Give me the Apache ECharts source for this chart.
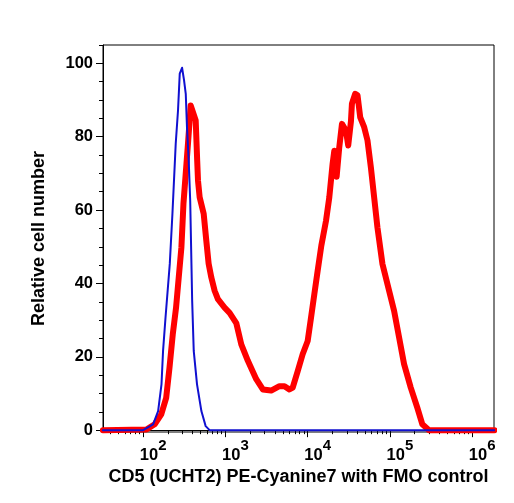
<!DOCTYPE html>
<html>
<head>
<meta charset="utf-8">
<script src="https://cdn.jsdelivr.net/npm/echarts@6/dist/echarts.min.js"></script>
<style>
  html, body { margin: 0; padding: 0; background: #fff; }
  #chart { width: 514px; height: 503px; }
</style>
</head>
<body>
<div id="chart"></div>
<script>
// x values are log10 of the fluorescence intensity (axis is drawn in decades)
var redLogX = [1.51, 2.04, 2.14, 2.22, 2.28, 2.32, 2.36, 2.40, 2.465, 2.49, 2.545, 2.578, 2.639,
  2.657, 2.667, 2.687, 2.736, 2.768, 2.796, 2.829, 2.869, 2.909, 2.99, 3.051, 3.132, 3.193,
  3.273, 3.375, 3.455, 3.556, 3.657, 3.718, 3.778, 3.818, 3.879, 3.939, 4.0, 4.041, 4.081,
  4.121, 4.166, 4.223, 4.263, 4.303, 4.324, 4.352, 4.384, 4.417, 4.465, 4.493, 4.526, 4.538,
  4.578, 4.606, 4.639, 4.687, 4.727, 4.768, 4.808, 4.848, 4.909, 5.011, 5.051, 5.112, 5.172,
  5.253, 5.333, 5.394, 5.475, 6.27];
var redVal = [0, 0.2, 1.6, 4.3, 8.8, 17.0, 26.1, 33.4, 49.8, 61.7, 78.1, 88.5, 84.4,
  73.5, 68.0, 63.5, 59.0, 51.6, 45.4, 41.6, 38.0, 35.7, 33.4, 32.0, 29.2, 23.4,
  18.9, 13.9, 11.1, 10.8, 12.0, 12.0, 11.1, 11.6, 16.1, 20.7, 24.3, 30.7, 37.1,
  43.4, 50.3, 57.1, 63.5, 72.6, 76.2, 69.1, 77.1, 83.5, 81.7, 77.6, 84.2, 89.0,
  91.7, 91.3, 85.3, 82.6, 79.0, 71.7, 63.5, 55.3, 45.3, 36.1, 32.5, 25.2, 18.0,
  11.6, 6.1, 1.6, 0, 0];

var blueLogX = [1.51, 2.0, 2.121, 2.182, 2.223, 2.242, 2.272, 2.324, 2.356, 2.396, 2.424, 2.445,
  2.473, 2.497, 2.518, 2.533, 2.554, 2.572, 2.587, 2.596, 2.615, 2.655, 2.708, 2.76, 2.808, 6.27];
var blueVal = [0, 0, 1.6, 5.2, 12.5, 21.6, 30.7, 45.4, 59.0, 78.1, 87.2, 97.2,
  98.8, 95.4, 91.7, 82.6, 73.5, 62.6, 45.4, 35.2, 21.6, 12.5, 5.2, 1.1, 0, 0];

var xMajorExp = [2, 3, 4, 5, 6];
var xMinorMult = [2, 3, 4, 5, 6, 7, 8, 9];
var yMajor = [0, 20, 40, 60, 80, 100];
var yMinor = [5, 10, 15, 25, 30, 35, 45, 50, 55, 65, 70, 75, 85, 90, 95, 105];

var xMin = 1.512, xMax = 6.265;
var xMinor = [];
for (var d = 1; d <= 6; d++) {
  xMinorMult.forEach(function (m) {
    var v = d + Math.log10(m);
    if (v > xMin && v < xMax) xMinor.push(v);
  });
}

function pairs(xs, ys) {
  return xs.map(function (x, i) { return [x, ys[i]]; });
}

var font = 'Liberation Sans';
var chart = echarts.init(document.getElementById('chart'));
chart.setOption({
  animation: false,
  textStyle: { fontFamily: font },
  grid: {
    left: 103, right: 20, top: 45, bottom: 71,
    show: true, borderColor: '#000', borderWidth: 1
  },
  xAxis: [
    {
      type: 'value', min: xMin, max: xMax,
      name: 'CD5 (UCHT2) PE-Cyanine7 with FMO control',
      nameLocation: 'middle', nameGap: 34,
      nameTextStyle: { color: '#000', fontSize: 18, fontWeight: 'bold', fontFamily: font },
      axisLine: { lineStyle: { color: '#000', width: 1 } },
      axisTick: { customValues: xMajorExp, length: 7, lineStyle: { color: '#000' } },
      axisLabel: {
        customValues: xMajorExp, margin: 6, padding: [0, 0, 0, 20],
        formatter: function (v) { return '{b|10}{s|' + v + '}'; },
        rich: {
          b: { fontSize: 16.5, fontWeight: 'bold', color: '#000', lineHeight: 34, verticalAlign: 'middle', fontFamily: font },
          s: { fontSize: 15, fontWeight: 'bold', color: '#000', lineHeight: 16, verticalAlign: 'top', fontFamily: font }
        }
      },
      splitLine: { show: false }
    },
    {
      type: 'value', min: xMin, max: xMax, position: 'bottom',
      axisLine: { show: false },
      axisTick: { customValues: xMinor, length: 4, lineStyle: { color: '#000' } },
      axisLabel: { show: false },
      splitLine: { show: false }
    }
  ],
  yAxis: [
    {
      type: 'value', min: -0.5, max: 105,
      name: 'Relative cell number',
      nameLocation: 'middle', nameGap: 55,
      nameTextStyle: { color: '#000', fontSize: 18, fontWeight: 'bold', fontFamily: font },
      axisLine: { show: true, lineStyle: { color: '#000', width: 1 } },
      axisTick: { show: true, customValues: yMajor, length: 7, lineStyle: { color: '#000' } },
      axisLabel: { customValues: yMajor, margin: 10, color: '#000', fontSize: 16.5, fontWeight: 'bold' },
      splitLine: { show: false }
    },
    {
      type: 'value', min: -0.5, max: 105, position: 'left',
      axisLine: { show: false },
      axisTick: { show: true, customValues: yMinor, length: 4, lineStyle: { color: '#000' } },
      axisLabel: { show: false },
      splitLine: { show: false }
    }
  ],
  series: [
    {
      name: 'CD5', type: 'line', showSymbol: false,
      data: pairs(redLogX, redVal),
      lineStyle: { color: '#ff0000', width: 6, join: 'round', cap: 'round' }, z: 2
    },
    {
      name: 'FMO control', type: 'line', showSymbol: false,
      data: pairs(blueLogX, blueVal),
      lineStyle: { color: '#1010d0', width: 2, join: 'round', cap: 'round' }, z: 3
    }
  ]
});
</script>
</body>
</html>
